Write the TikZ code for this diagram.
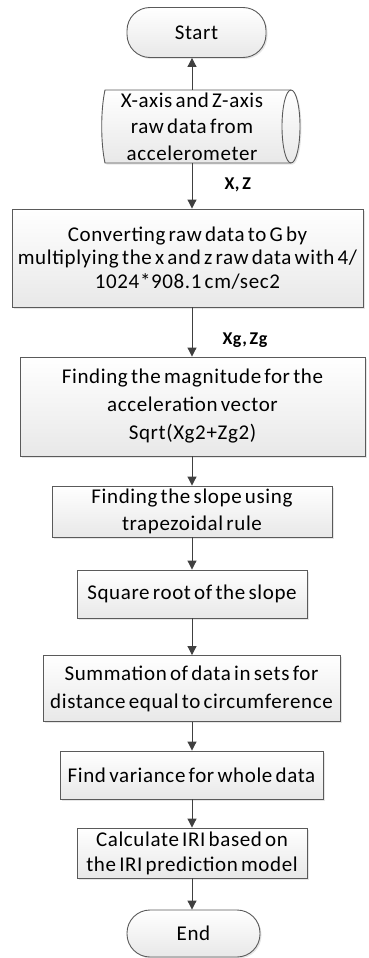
\documentclass[tikz,border=0pt]{standalone}
\usepackage{fontspec}
\setmainfont{Carlito}[LetterSpace=3, WordSpace=0.6]
\usetikzlibrary{shadows,arrows.meta}

\definecolor{edge}{HTML}{5A5A5A}
\definecolor{link}{HTML}{404040}

\tikzset{
  softshadow/.style={drop shadow={opacity=0.2, shadow xshift=1.5pt, shadow yshift=-1.5pt}},
  stepbox/.style={draw=edge, line width=0.9pt, top color=white, bottom color=black!9,
    align=center, inner sep=1pt, font=\fontsize{21}{27}\selectfont, softshadow},
  term/.style={stepbox, rounded corners=23pt},
  flow/.style={draw=link, line width=1pt, -{Triangle[length=9pt,width=9pt]}},
  tag/.style={anchor=west, font=\bfseries\fontsize{18}{20}\selectfont}
}

\begin{document}
\begin{tikzpicture}[x=1pt,y=-1pt]
\useasboundingbox (0,0) rectangle (368,958);
\coordinate (axis) at (192,0);

% terminal: Start
\node[term, minimum width=139pt, minimum height=50pt] (start) at (196.5,32.5) {Start};

% stored data shape (horizontal cylinder)
\path[draw=edge, line width=0.9pt, top color=white, bottom color=black!9, softshadow]
  (105,90) -- (291,90)
  .. controls (296,90) and (300,106.3) .. (300,126.5)
  .. controls (300,146.7) and (296,163) .. (291,163)
  -- (105,163)
  .. controls (100.6,143) and (100.6,110) .. (105,90) -- cycle;
\draw[edge, line width=0.9pt] (291,90)
  .. controls (286,90) and (282,106.3) .. (282,126.5)
  .. controls (282,146.7) and (286,163) .. (291,163);
\node[align=center, inner sep=0pt, minimum width=180pt, minimum height=73pt,
      font=\fontsize{21}{26.5}\selectfont] (raw) at (192,126.5)
  {X-axis and Z-axis\\raw data from\\accelerometer};

% process steps
\node[stepbox, minimum width=351pt, minimum height=98pt, font=\fontsize{21}{23.5}\selectfont]
  (conv) at (187.5,258)
  {Converting raw data to G by\\multiplying the x and z raw data with 4/\\1024*908.1 cm/sec2};
\node[stepbox, minimum width=345pt, minimum height=99pt, font=\fontsize{21}{28}\selectfont]
  (mag) at (192.5,406.5)
  {Finding the magnitude for the\\acceleration vector\\Sqrt(Xg2+Zg2)};
\node[stepbox, minimum width=280pt, minimum height=51pt] (slope) at (192,511.5)
  {Finding the slope using\\trapezoidal rule};
\node[stepbox, minimum width=230pt, minimum height=48pt] (sqroot) at (192,594)
  {Square root of the slope};
\node[stepbox, minimum width=297pt, minimum height=66pt, font=\fontsize{21}{28}\selectfont]
  (sum) at (191.5,688.5)
  {Summation of data in sets for\\distance equal to circumference};
\node[stepbox, minimum width=263pt, minimum height=48pt] (var) at (191.5,775)
  {Find variance for whole data};
\node[stepbox, minimum width=230pt, minimum height=50pt, font=\fontsize{21}{25}\selectfont]
  (iri) at (192,853)
  {Calculate IRI based on\\the IRI prediction model};

% terminal: End
\node[term, minimum width=133pt, minimum height=47pt] (end) at (193.5,933.5) {End};

% connectors
\draw[flow] (axis |- raw.north) -- (axis |- start.south);
\draw[flow] (axis |- raw.south) -- (axis |- conv.north);
\draw[flow] (axis |- conv.south) -- (axis |- mag.north);
\draw[flow] (axis |- mag.south) -- (axis |- slope.north);
\draw[flow] (axis |- slope.south) -- (axis |- sqroot.north);
\draw[flow] (axis |- sqroot.south) -- (axis |- sum.north);
\draw[flow] (axis |- sum.south) -- (axis |- var.north);
\draw[flow] (axis |- var.south) -- (axis |- iri.north);
\draw[flow] (axis |- iri.south) -- (axis |- end.north);

% data labels on the connectors
\node[tag] (xz) at (221,185) {X, Z};
\node[tag] (xgzg) at (219,340) {Xg, Zg};
\end{tikzpicture}
\end{document}
